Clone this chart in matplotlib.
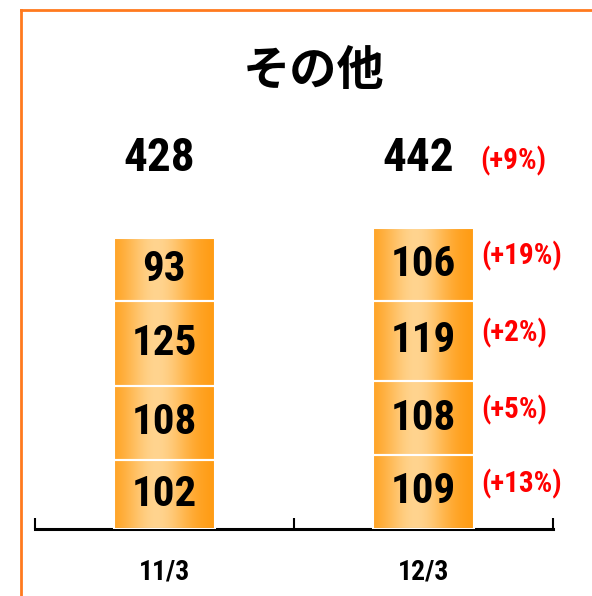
import numpy as np
import matplotlib.pyplot as plt
from matplotlib.lines import Line2D

periods = ['11/3', '12/3']
# stacked from bottom to top
seg_11 = [102, 108, 125, 93]
seg_12 = [109, 108, 119, 106]
totals = [428, 442]
total_change = '(+9%)'
seg_change = ['(+13%)', '(+5%)', '(+2%)', '(+19%)']

NARROW = ['Roboto Condensed', 'DejaVu Sans']
CJK = ['Noto Sans CJK JP', 'DejaVu Sans']
EDGE_ORANGE = '#FF7A1E'

fig = plt.figure(figsize=(5.92, 5.96), dpi=100)
ax = fig.add_axes([34.5 / 592, 67 / 596, 518.5 / 592, 429 / 596])

x = np.arange(len(periods))
ax.set_xlim(-0.5, 1.5)
ax.set_ylim(0, 429 / 0.68)

# horizontal gradient: darker orange edges, light centre
grad = np.linspace(0, 1, 256)
shade = np.exp(-((grad - 0.42) / 0.33) ** 2)
c_edge = np.array([1.0, 0.60, 0.05])
c_mid = np.array([1.0, 0.83, 0.56])
img = c_edge[None, :] + (c_mid - c_edge)[None, :] * shade[:, None]
img = img[None, :, :]

for i, segs in enumerate([seg_11, seg_12]):
    bottom = 0
    for j, v in enumerate(segs):
        bar = ax.bar(x[i], v, bottom=bottom, width=0.39, facecolor='none',
                     edgecolor='white', linewidth=1.5, zorder=3)[0]
        bx, by = bar.get_x(), bar.get_y()
        im = ax.imshow(img, extent=[bx, bx + bar.get_width(), by, by + v],
                       aspect='auto', zorder=2)
        im.set_clip_path(bar)
        ax.text(x[i], bottom + v / 2, str(v), ha='center', va='center',
                fontsize=31, family=NARROW, fontstretch='condensed',
                fontweight='bold', zorder=4)
        if i == 1:
            ax.text(x[i] + 0.225, bottom + v / 2 + 12, seg_change[j],
                    ha='left', va='center', fontsize=21, fontweight='bold',
                    color='#FF0000', family=NARROW, fontstretch='condensed',
                    zorder=4)
        bottom += v
    ax.text(x[i] - 0.02, 546, str(totals[i]), ha='center', va='center',
            fontsize=34, fontweight='bold', family=NARROW,
            fontstretch='condensed')

ax.text(x[1] + 0.22, 541, total_change, ha='left', va='center', fontsize=21,
        fontweight='bold', color='#FF0000', family=NARROW,
        fontstretch='condensed')

for s in ['top', 'right', 'left']:
    ax.spines[s].set_visible(False)
ax.spines['bottom'].set_linewidth(2.2)
ax.set_yticks([])
ax.set_xticks([-0.5, 0.5, 1.5])
ax.set_xticklabels([])
ax.tick_params(axis='x', which='major', direction='in', length=8, width=1.5)
ax.set_xticks(x, minor=True)
ax.set_xticklabels(periods, minor=True, fontsize=20, family=NARROW,
                   fontstretch='condensed', fontweight='bold')
ax.tick_params(axis='x', which='minor', length=0, pad=21)

fig.text(314 / 592, 1 - 71 / 596, 'その他', ha='center', va='center',
         fontsize=34, fontweight='bold', family=CJK)

# orange frame (top and left edges)
fig.add_artist(Line2D([21 / 592, 1], [1 - 10 / 596, 1 - 10 / 596],
                      transform=fig.transFigure, color=EDGE_ORANGE, lw=2))
fig.add_artist(Line2D([21 / 592, 21 / 592], [0, 1 - 10 / 596],
                      transform=fig.transFigure, color=EDGE_ORANGE, lw=2))

fig.savefig('out.png', dpi=100)
